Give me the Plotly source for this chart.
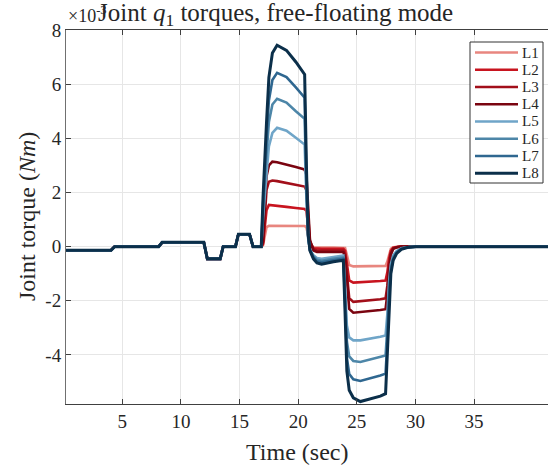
import plotly.graph_objects as go

# Time (sec)
t_pre = [0.08, 4.05, 4.35, 8.1, 8.4, 11.95, 12.25, 13.35, 13.6, 14.65, 14.9, 15.85, 16.15]
# torque before the pulses (x1e-3 Nm), shared by all links
y_pre = [-0.13, -0.13, 0.0, 0.0, 0.16, 0.16, -0.45, -0.45, 0.0, 0.0, 0.46, 0.46, 0.0]

t_pulse = [16.85, 17.0, 17.15, 17.3, 17.5, 17.8, 18.2, 19.0, 19.8, 20.4, 20.55, 20.7, 20.85,
           21.0, 21.3, 21.6, 22.0, 23.0, 23.85, 24.0, 24.15, 24.35, 24.7, 25.3, 26.2, 27.0,
           27.45, 27.6, 27.75, 27.9, 28.1, 28.4, 28.8, 29.3, 30.0, 41.3]

L1 = [0, 0.05, 0.45, 0.72, 0.77, 0.77, 0.77, 0.77, 0.76, 0.76, 0.76, 0.72, 0.38,
      0.08, -0.02, -0.03, -0.03, -0.03, -0.03, -0.05, -0.3, -0.68, -0.73, -0.73, -0.72, -0.72,
      -0.71, -0.55, -0.25, -0.08, -0.02, 0, 0, 0, 0, 0]
L2 = [0, 0.1, 0.8, 1.35, 1.54, 1.53, 1.51, 1.47, 1.43, 1.40, 1.39, 1.32, 0.72,
      0.15, -0.06, -0.08, -0.08, -0.08, -0.08, -0.15, -0.6, -1.25, -1.33, -1.32, -1.29, -1.27,
      -1.25, -0.95, -0.45, -0.15, -0.04, -0.01, 0, 0, 0, 0]
L3 = [0, 0.15, 1.2, 2.1, 2.4, 2.44, 2.42, 2.36, 2.29, 2.24, 2.22, 2.08, 1.1,
      0.2, -0.1, -0.14, -0.14, -0.14, -0.14, -0.3, -1.0, -1.9, -2.04, -2.02, -1.98, -1.94,
      -1.91, -1.45, -0.7, -0.25, -0.07, -0.02, 0, 0, 0, 0]
L4 = [0, 0.2, 1.5, 2.6, 3.0, 3.14, 3.12, 3.04, 2.94, 2.87, 2.84, 2.65, 1.4,
      0.25, -0.14, -0.2, -0.2, -0.2, -0.2, -0.4, -1.3, -2.3, -2.44, -2.42, -2.38, -2.34,
      -2.31, -1.75, -0.85, -0.3, -0.08, -0.02, 0, 0, 0, 0]
L5 = [0, 1.05, 2.0, 2.7, 3.7, 4.2, 4.39, 4.28, 4.02, 3.82, 3.77, 1.8, 0.3,
      -0.1, -0.32, -0.42, -0.45, -0.38, -0.33, -1.5, -2.9, -3.35, -3.46, -3.46, -3.4, -3.33,
      -3.28, -2.5, -1.3, -0.65, -0.32, -0.16, -0.06, -0.02, 0, 0]
L6 = [0, 1.3, 2.45, 3.4, 4.6, 5.25, 5.46, 5.32, 5.0, 4.77, 4.72, 2.2, 0.35,
      -0.12, -0.36, -0.48, -0.52, -0.45, -0.4, -1.8, -3.5, -4.05, -4.22, -4.26, -4.17, -4.08,
      -4.02, -3.0, -1.6, -0.8, -0.4, -0.19, -0.07, -0.02, 0, 0]
L7 = [0, 1.55, 2.9, 4.0, 5.4, 6.15, 6.42, 6.26, 5.88, 5.6, 5.5, 2.6, 0.4,
      -0.13, -0.4, -0.54, -0.58, -0.5, -0.45, -2.1, -4.1, -4.7, -4.9, -4.96, -4.86, -4.76,
      -4.69, -3.5, -1.8, -0.9, -0.45, -0.22, -0.08, -0.02, 0, 0]
L8 = [0, 1.8, 3.35, 4.6, 6.25, 7.15, 7.44, 7.25, 6.82, 6.47, 6.36, 3.0, 0.45,
      -0.15, -0.45, -0.6, -0.65, -0.56, -0.5, -2.5, -4.6, -5.3, -5.58, -5.72, -5.62, -5.52,
      -5.43, -4.0, -2.0, -1.0, -0.5, -0.25, -0.1, -0.03, 0, 0]

names = ["L1", "L2", "L3", "L4", "L5", "L6", "L7", "L8"]
series = [L1, L2, L3, L4, L5, L6, L7, L8]
colors = ["#E8867F", "#C8141F", "#A20F1A", "#7A0410", "#6FA5C8", "#4D86A8", "#2F6790", "#0B2F4A"]
widths = [2.6, 2.6, 2.6, 2.6, 2.6, 2.6, 2.6, 3.0]

x_ticks = [5, 10, 15, 20, 25, 30, 35]
y_ticks = [-4, -2, 0, 2, 4, 6, 8]
y_tick_text = ["-4", "-2", "0", "2", "4", "6", "8"]

FONT = "Liberation Serif"
TXT = "#262626"

fig = go.Figure()
for name, ys, c, w in zip(names, series, colors, widths):
    fig.add_trace(go.Scatter(x=t_pre + t_pulse, y=y_pre + ys, mode="lines", name=name,
                             line=dict(color=c, width=w), showlegend=False))

L, R, T, B = 66, 0, 30, 63
W, H = 548, 467
pw, ph = W - L - R, H - T - B

def px(x):
    return (x - L) / pw

def py(y):
    return (H - B - y) / ph

fig.update_layout(
    width=W, height=H,
    margin=dict(l=L, r=R, t=T, b=B, pad=0),
    paper_bgcolor="white", plot_bgcolor="white",
    font=dict(family=FONT, size=18, color=TXT),
    showlegend=False,
    xaxis=dict(range=[0.2, 41.3], tickvals=x_ticks, ticks="inside", ticklen=5,
               tickcolor="#404040", showline=True, linecolor="#404040", linewidth=1,
               mirror="ticks", showgrid=True, gridcolor="#e6e6e6", gridwidth=1,
               zeroline=False, tickfont=dict(family=FONT, size=19)),
    yaxis=dict(range=[-5.81, 8.0], tickvals=y_ticks, ticktext=y_tick_text, ticks="inside",
               ticklen=5, tickcolor="#404040", showline=True, linecolor="#707070", linewidth=1,
               showgrid=True, gridcolor="#e6e6e6", gridwidth=1, zeroline=False,
               tickfont=dict(family=FONT, size=19)),
)

# legend box (drawn as shapes + texts, entries from names / colors)
lg_left, lg_right, lg_top, lg_bottom = 470, 543, 42, 183
lg_first, lg_step = 52.5, 17.25
fig.add_shape(type="rect", xref="paper", yref="paper", x0=px(lg_left), x1=px(lg_right),
              y0=py(lg_bottom), y1=py(lg_top), line=dict(color="#333333", width=1),
              fillcolor="white", layer="above")
for i, (name, c, w) in enumerate(zip(names, colors, widths)):
    yy = lg_first + i * lg_step
    fig.add_shape(type="line", xref="paper", yref="paper", x0=px(475), x1=px(518),
                  y0=py(yy), y1=py(yy), line=dict(color=c, width=w), layer="above")
    fig.add_annotation(text=name, xref="paper", yref="paper", x=px(520), y=py(yy),
                       xanchor="left", yanchor="middle", showarrow=False,
                       font=dict(family=FONT, size=15, color=TXT))

fig.add_annotation(text="Joint <i>q</i><sub>1</sub> torques, free-floating mode",
                   xref="paper", yref="paper", x=px(96), y=py(14), xanchor="left",
                   yanchor="middle", showarrow=False, font=dict(family=FONT, size=25))
fig.add_annotation(text="×10<sup>-3</sup>", xref="paper", yref="paper", x=px(66), y=py(14),
                   xanchor="left", yanchor="middle", showarrow=False,
                   font=dict(family=FONT, size=18))
fig.add_annotation(text="Time (sec)", xref="paper", yref="paper", x=px(297), y=py(452),
                   xanchor="center", yanchor="middle", showarrow=False,
                   font=dict(family=FONT, size=24))
fig.add_annotation(text="Joint torque (<i>Nm</i>)", xref="paper", yref="paper", x=px(27),
                   y=py(217), xanchor="center", yanchor="middle", textangle=-90,
                   showarrow=False, font=dict(family=FONT, size=24))

fig.write_html("out.html")
